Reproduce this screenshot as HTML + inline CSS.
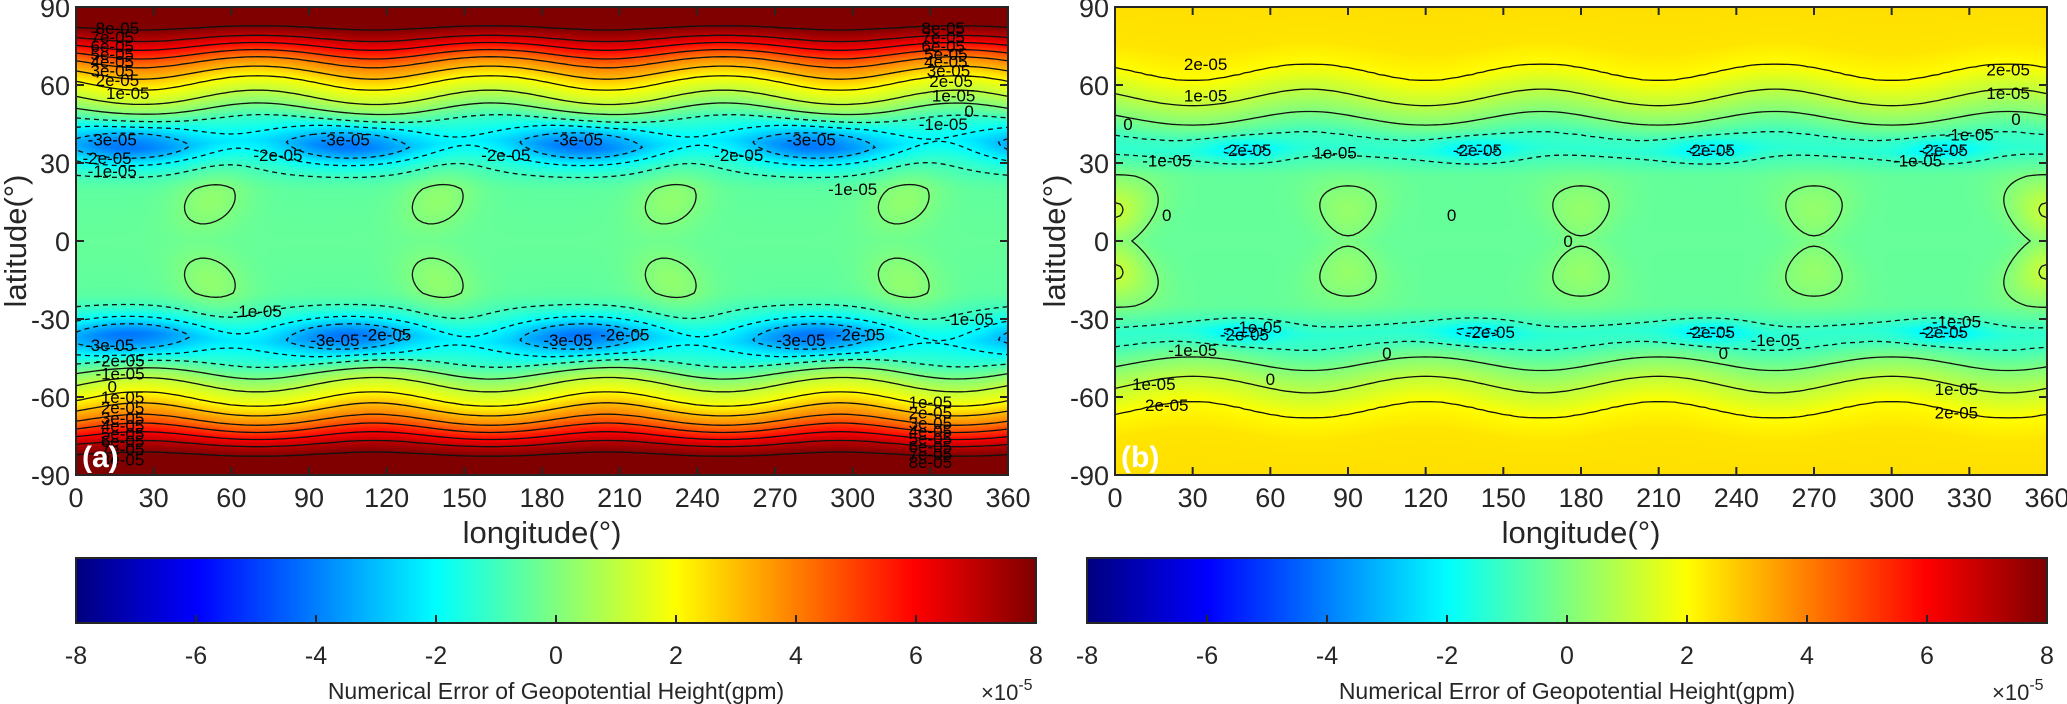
<!DOCTYPE html>
<html><head><meta charset="utf-8">
<style>
html,body{margin:0;padding:0;background:#fff;}
#wrap{position:relative;width:2067px;height:704px;overflow:hidden;font-family:"Liberation Sans",Arial,sans-serif;}
canvas{position:absolute;}
svg{position:absolute;left:0;top:0;}
</style></head>
<body>
<div id="wrap">
<canvas id="heatA" width="932" height="468" style="left:76px;top:7px"></canvas>
<canvas id="heatB" width="932" height="468" style="left:1115px;top:7px"></canvas>
<canvas id="cbarA" width="960" height="65" style="left:76px;top:558px"></canvas>
<canvas id="cbarB" width="960" height="65" style="left:1087px;top:558px"></canvas>
<svg id="svg" width="2067" height="704" xmlns="http://www.w3.org/2000/svg"></svg>
</div>
<script>
// ---- data arrays (units of 1e-5 gpm) ----
const profLat = [0, 20, 30, 37, 45, 50, 55, 61, 65, 69, 72, 75, 78, 82, 90];
const profA   = [-0.4, -0.5, -1.0, -1.7, -1.0, 0, 1, 2, 3, 4, 5, 6, 7, 8, 9.5];
const rippleLat = [0, 25, 35, 45, 60, 75, 90];
const rippleA   = [0, 0, 1.5, 3, 3, 1.5, 0];
const rippleB   = [0, 0, 1.0, 2.5, 3.5, 2.5, 1];
const profLatB = [0, 25, 31, 35, 40, 44, 47, 55, 65, 75, 90];
const profB    = [-0.4, -0.45, -0.9, -1.3, -1.0, -0.4, 0, 1, 2, 2.4, 2.5];
const blueLonsA = [20, 105, 195, 285];
const blueLatA = 37, blueAmpA = -2.5;
const greenLonsA = [52, 140, 230, 320];
const greenLatA = 16, greenAmpA = 0.75;
const blueLonsB = [50, 140, 230, 320];
const blueLatB = 35, blueAmpB = -1.0;
const greenLonsB = [0, 90, 180, 270, 360];
const greenLatB = 12, greenAmpB = 0.75;
const levelsA = [-3, -2, -1, 0, 1, 2, 3, 4, 5, 6, 7, 8];
const levelsB = [-2, -1, 0, 1, 2];
const xTicks = [0, 30, 60, 90, 120, 150, 180, 210, 240, 270, 300, 330, 360];
const yTicks = [90, 60, 30, 0, -30, -60, -90];
const cbTicks = [-8, -6, -4, -2, 0, 2, 4, 6, 8];
const labelsA = [
 ["8e-05",335,82],["7e-05",335,78.5],["6e-05",335,75],["5e-05",336,72],["4e-05",336,69],["3e-05",337,65.5],["2e-05",338,61.5],["1e-05",339,56],["0",345,50],["-1e-05",335,45],
 ["8e-05",16,82],["7e-05",14,78.5],["6e-05",14,75],["5e-05",14,72],["4e-05",14,69],["3e-05",14,65.5],["2e-05",16,62],["1e-05",20,57],
 ["-3e-05",14,39],["-2e-05",12,32],["-1e-05",14,27],["-3e-05",104,39],["-2e-05",78,33],["-3e-05",194,39],["-2e-05",166,33],["-3e-05",284,39],["-2e-05",256,33],["-1e-05",300,20],
 ["-3e-05",13,-40],["-2e-05",17,-46],["-1e-05",17,-51],["0",14,-56],["1e-05",18,-60],["2e-05",18,-64],["3e-05",18,-68],["4e-05",18,-71],["5e-05",18,-74],["6e-05",18,-77],["7e-05",18,-80],["8e-05",18,-84],
 ["-3e-05",100,-38],["-2e-05",120,-36],["-1e-05",70,-27],["-3e-05",190,-38],["-2e-05",212,-36],["-3e-05",280,-38],["-2e-05",303,-36],["-1e-05",345,-30],
 ["1e-05",330,-62],["2e-05",330,-66],["3e-05",330,-70],["4e-05",330,-73],["5e-05",330,-76],["6e-05",330,-79],["7e-05",330,-82],["8e-05",330,-85]
];
const labelsB = [
 ["2e-05",35,68],["1e-05",35,56],["0",5,45],["2e-05",345,66],["1e-05",345,57],["0",348,47],["-1e-05",330,41],["-1e-05",20,31],["2e-05",52,35],["1e-05",85,34],["-2e-05",140,35],["-2e-05",230,35],["-2e-05",320,35],["-1e-05",310,31],
 ["0",20,10],["0",130,10],["0",175,0],
 ["-1e-05",55,-33],["-2e-05",50,-36],["-1e-05",30,-42],["-2e-05",145,-35],["-2e-05",230,-35],["-1e-05",255,-38],["-2e-05",320,-35],["-1e-05",325,-31],["0",105,-43],["0",235,-43],
 ["1e-05",15,-55],["0",60,-53],["2e-05",20,-63],["1e-05",325,-57],["2e-05",325,-66]
];
// ---- geometry ----
const P = {a:{x0:76,y0:7,w:932,h:468}, b:{x0:1115,y0:7,w:932,h:468}};
function xs(p,lon){return p.x0+lon/360*p.w;}
function ys(p,lat){return p.y0+(90-lat)/180*p.h;}
function interp(X,Y,x){if(x<=X[0])return Y[0];for(let i=1;i<X.length;i++){if(x<=X[i]){const t=(x-X[i-1])/(X[i]-X[i-1]);return Y[i-1]+t*(Y[i]-Y[i-1]);}}return Y[Y.length-1];}
function dl(a,b){let d=((a-b)%360+540)%360-180;return d;}
const D=Math.PI/180;
function fieldA(lon,lat){
 const L=Math.abs(lat);
 const Le=L+interp(rippleLat,rippleA,L)*Math.cos(4*(lon-25)*D);
 let v=interp(profLat,profA,Le);
 for(const c of blueLonsA){const dx=dl(lon,c)/21,dy=(L-blueLatA)/6;v+=blueAmpA*Math.exp(-(dx*dx+dy*dy)/2);}
 for(const c of greenLonsA){const dx=dl(lon,c+(L-greenLatA)*0.3)/10,dy=(L-greenLatA)/9;v+=greenAmpA*Math.exp(-(dx*dx+dy*dy)/2);}
 return v;
}
function fieldB(lon,lat){
 const L=Math.abs(lat);
 const Le=L+interp(rippleLat,rippleB,L)*Math.cos(4*(lon-30)*D);
 let v=interp(profLatB,profB,Le);
 for(const c of blueLonsB){const dx=dl(lon,c)/11,dy=(L-blueLatB)/3;v+=blueAmpB*Math.exp(-(dx*dx+dy*dy)/2);}
 for(const c of greenLonsB){const dx=dl(lon,c)/(7+L*0.25),dy=(L-greenLatB)/9;v+=greenAmpB*Math.exp(-(dx*dx+dy*dy)/2);}
 return v;
}
function jet(t){t=Math.max(0,Math.min(1,t));const c=x=>Math.max(0,Math.min(1,x));
 return [c(1.5-Math.abs(4*t-3))*255,c(1.5-Math.abs(4*t-2))*255,c(1.5-Math.abs(4*t-1))*255];}
function paintHeat(id,f){
 const cv=document.getElementById(id),ctx=cv.getContext('2d'),W=cv.width,H=cv.height,img=ctx.createImageData(W,H);
 for(let y=0;y<H;y++){const lat=90-(y+0.5)/H*180;for(let x=0;x<W;x++){const lon=(x+0.5)/W*360;const c=jet((f(lon,lat)+8)/16);const k=(y*W+x)*4;img.data[k]=c[0];img.data[k+1]=c[1];img.data[k+2]=c[2];img.data[k+3]=255;}}
 ctx.putImageData(img,0,0);
}
function paintBar(id){
 const cv=document.getElementById(id),ctx=cv.getContext('2d');
 for(let x=0;x<cv.width;x++){const c=jet(x/(cv.width-1));ctx.fillStyle=`rgb(${c[0]|0},${c[1]|0},${c[2]|0})`;ctx.fillRect(x,0,1,cv.height);}
}
paintHeat('heatA',fieldA);paintHeat('heatB',fieldB);paintBar('cbarA');paintBar('cbarB');

const NS='http://www.w3.org/2000/svg',svg=document.getElementById('svg');
function mk(tag,attrs,parent){const e=document.createElementNS(NS,tag);for(const k in attrs)e.setAttribute(k,attrs[k]);(parent||svg).appendChild(e);return e;}

function contour(p,f,lev,dashed,name){
 const NX=180,NY=180;const G=[];
 for(let j=0;j<=NY;j++){G.push([]);for(let i=0;i<=NX;i++)G[j].push(f(i*360/NX,90-j*180/NY)-lev);}
 const pts={},adj={};
 function ept(key,x,y){pts[key]=[x,y];if(!adj[key])adj[key]=[];}
 function link(a,b){adj[a].push(b);adj[b].push(a);}
 const px=i=>xs(p,i*360/NX),py=j=>ys(p,90-j*180/NY);
 for(let j=0;j<NY;j++)for(let i=0;i<NX;i++){
  const a=G[j][i],b=G[j][i+1],c=G[j+1][i+1],d=G[j+1][i];
  const e=[];
  if((a>0)!==(b>0)){const t=a/(a-b);const k='h'+i+'_'+j;ept(k,px(i+t),py(j));e.push(k);}
  if((b>0)!==(c>0)){const t=b/(b-c);const k='v'+(i+1)+'_'+j;ept(k,px(i+1),py(j+t));e.push(k);}
  if((d>0)!==(c>0)){const t=d/(d-c);const k='h'+i+'_'+(j+1);ept(k,px(i+t),py(j+1));e.push(k);}
  if((a>0)!==(d>0)){const t=a/(a-d);const k='v'+i+'_'+j;ept(k,px(i),py(j+t));e.push(k);}
  if(e.length===2)link(e[0],e[1]);
  else if(e.length===4){link(e[0],e[3]);link(e[1],e[2]);}
 }
 const used={};let dstr='';
 function walk(s){let cur=s,prev=null;dstr+='M'+pts[s][0].toFixed(1)+' '+pts[s][1].toFixed(1);used[s]=1;
  while(true){const nb=adj[cur].filter(n=>n!==prev&&!used[n]);if(!nb.length)break;prev=cur;cur=nb[0];used[cur]=1;dstr+='L'+pts[cur][0].toFixed(1)+' '+pts[cur][1].toFixed(1);}}
 for(const k in adj)if(!used[k]&&adj[k].length===1)walk(k);
 for(const k in adj)if(!used[k]){walk(k);dstr+='Z';}
 const path=mk('path',{d:dstr,fill:'none',stroke:'#111','stroke-width':1.3,'stroke-dasharray':dashed?'5 4':'none'});
 
 
}
const clipA=mk('clipPath',{id:'ca'});mk('rect',{x:76,y:7,width:932,height:468},clipA);
const clipB=mk('clipPath',{id:'cb'});mk('rect',{x:1115,y:7,width:932,height:468},clipB);

function panel(key,p,f,levels,labels,tag){
 const g=mk('g',{'clip-path':`url(#c${key})`});
 
 
 for(const lv of levels){
  contour(p,f,lv,lv<0,'contour-'+key+'-level-'+lv);
  g.appendChild(svg.lastChild);
 }
 for(const L of labels){
  const t=mk('text',{x:xs(p,L[1]),y:ys(p,L[2])+6,'font-size':17,'text-anchor':'middle',fill:'#000'},g);
  t.textContent=L[0];
  
  
 }
 const fr=mk('rect',{x:p.x0,y:p.y0,width:p.w,height:p.h,fill:'none',stroke:'#262626','stroke-width':2});
 
 
 for(const v of xTicks){
  const x=xs(p,v);
  mk('line',{x1:x,y1:p.y0,x2:x,y2:p.y0+8,stroke:'#262626','stroke-width':2});
  mk('line',{x1:x,y1:p.y0+p.h,x2:x,y2:p.y0+p.h-8,stroke:'#262626','stroke-width':2});
  const t=mk('text',{x:x,y:507,'font-size':27,'text-anchor':'middle',fill:'#262626'});
  t.textContent=v;
  
  
 }
 for(const v of yTicks){
  const y=ys(p,v);
  mk('line',{x1:p.x0,y1:y,x2:p.x0+8,y2:y,stroke:'#262626','stroke-width':2});
  mk('line',{x1:p.x0+p.w,y1:y,x2:p.x0+p.w-8,y2:y,stroke:'#262626','stroke-width':2});
  const t=mk('text',{x:p.x0-6,y:y+10,'font-size':27,'text-anchor':'end',fill:'#262626'});
  t.textContent=v;
  
  
 }
 const xl=mk('text',{x:p.x0+p.w/2,y:543,'font-size':31,'text-anchor':'middle',fill:'#262626'});
 xl.textContent='longitude(°)';
 
 
 const yl=mk('text',{x:0,y:0,'font-size':31,'text-anchor':'middle',fill:'#262626',transform:`translate(${p.x0-50},${p.y0+p.h/2}) rotate(-90)`});
 yl.textContent='latitude(°)';
 
 
 const pl=mk('text',{x:p.x0+6,y:p.y0+p.h-8,'font-size':30,'font-weight':'bold',fill:'#fff'});
 pl.textContent=tag;
 
 
}
panel('a',P.a,fieldA,levelsA,labelsA,'(a)');
panel('b',P.b,fieldB,levelsB,labelsB,'(b)');

function cbar(key,x0){
 const w=960,y0=558,h=65;
 const fr=mk('rect',{x:x0,y:y0,width:w,height:h,fill:'none',stroke:'#262626','stroke-width':2});
 
 
 for(const v of cbTicks){
  const x=x0+(v+8)/16*w;
  mk('line',{x1:x,y1:y0+h,x2:x,y2:y0+h-8,stroke:'#262626','stroke-width':2});
  const t=mk('text',{x:x,y:664,'font-size':25,'text-anchor':'middle',fill:'#262626'});
  t.textContent=v;
  
  
 }
 const tt=mk('text',{x:x0+480,y:699,'font-size':23,'text-anchor':'middle',fill:'#262626'});
 tt.textContent='Numerical Error of Geopotential Height(gpm)';
 
 
 const ex=mk('text',{x:x0+w-55,y:700,'font-size':22,fill:'#262626'});
 ex.innerHTML='×10<tspan dy="-10" font-size="16">-5</tspan>';
 
 
}
cbar('a',76);cbar('b',1087);
</script>
</body></html>
